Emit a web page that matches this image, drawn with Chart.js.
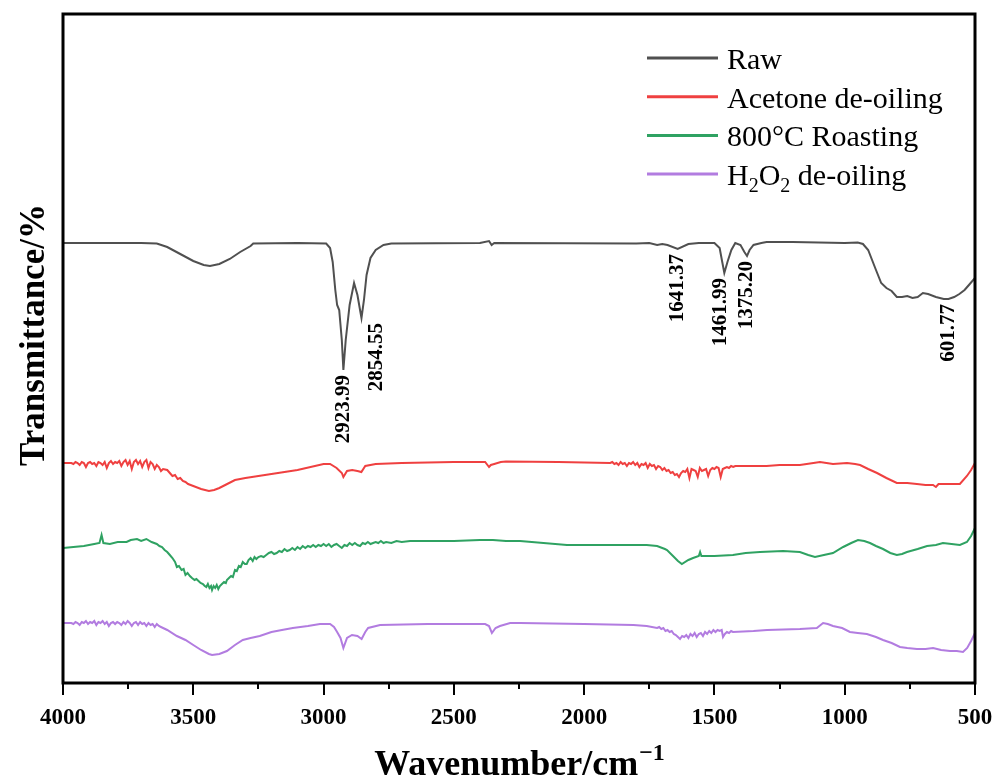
<!DOCTYPE html>
<html>
<head>
<meta charset="utf-8">
<script src="https://cdn.jsdelivr.net/npm/chart.js@4"></script>
<style>
  body { margin: 0; background: #fff; }
</style>
</head>
<body>
<canvas id="chart" width="998" height="780"></canvas>
<script>
// FTIR spectra: [wavenumber cm-1, transmittance in offset units]
const rawSpectrum = [
    [4000, 440], [3800, 440], [3700, 440], [3640, 439.5], [3600, 436], [3550, 429], [3500, 422], [3460, 418],
    [3436, 417], [3400, 419], [3360, 424], [3320, 431], [3280, 437], [3270, 439.5], [3100, 440], [2990, 439.5],
    [2975, 435], [2965, 421], [2955, 393], [2948, 378], [2940, 373], [2930, 343], [2924, 313], [2915, 343],
    [2900, 378], [2883, 400], [2870, 388], [2860, 373], [2854.5, 365], [2845, 383], [2835, 408], [2820, 425],
    [2800, 433], [2770, 438], [2740, 439.5], [2400, 440], [2365, 442], [2355, 438], [2345, 440], [1800, 439.5],
    [1750, 440], [1720, 438], [1700, 439], [1680, 438], [1641, 434], [1600, 439], [1560, 440], [1500, 440],
    [1480, 435], [1470, 421], [1462, 410], [1450, 421], [1435, 433], [1420, 440], [1400, 438], [1385, 431],
    [1375, 427], [1365, 433], [1350, 438], [1320, 440], [1300, 441], [1200, 441], [1000, 440], [950, 440.5],
    [930, 439], [910, 433], [880, 413], [860, 400], [840, 395], [820, 392], [800, 386], [780, 386],
    [760, 387], [740, 385], [720, 386], [700, 390], [680, 389], [650, 386], [620, 384], [601.77, 384],
    [580, 386], [560, 389], [540, 393], [520, 399], [500, 405]
];

const acetoneSpectrum = [
    [4000, 220], [3968, 220], [3960, 219], [3952, 221], [3944, 220], [3936, 218], [3928, 221], [3920, 220],
    [3912, 216], [3904, 220], [3896, 221], [3888, 219], [3880, 220], [3872, 217], [3864, 221], [3856, 220],
    [3848, 218], [3840, 221], [3832, 215], [3824, 220], [3816, 222], [3808, 219], [3800, 221], [3792, 220],
    [3784, 222], [3776, 217], [3768, 221], [3760, 223], [3752, 218], [3744, 222], [3736, 214], [3728, 221],
    [3720, 223], [3712, 219], [3704, 222], [3696, 216], [3688, 221], [3680, 223], [3672, 215], [3664, 221],
    [3656, 219], [3648, 214], [3640, 218], [3632, 216], [3624, 212], [3616, 214], [3600, 213], [3590, 210],
    [3580, 207], [3570, 208], [3560, 204], [3550, 205], [3540, 202], [3530, 201], [3520, 199], [3510, 198],
    [3500, 197], [3470, 194], [3440, 192], [3420, 193], [3400, 195], [3370, 199], [3340, 203], [3300, 205],
    [3250, 207], [3200, 209], [3100, 213], [3000, 219], [2975, 219], [2950, 215], [2930, 210], [2924, 206],
    [2910, 212], [2890, 213], [2870, 212], [2855, 211], [2840, 217], [2800, 219], [2700, 220], [2500, 221],
    [2380, 221], [2365, 216], [2358, 218], [2345, 219], [2320, 221], [2300, 221.5], [2100, 221], [1900, 220],
    [1892, 221], [1884, 219], [1876, 220], [1868, 218], [1860, 221], [1852, 219], [1844, 220], [1836, 217],
    [1828, 220], [1820, 219], [1812, 221], [1804, 218], [1796, 220], [1788, 216], [1780, 219], [1772, 218],
    [1764, 220], [1756, 215], [1748, 219], [1740, 217], [1732, 218], [1724, 214], [1716, 217], [1708, 216],
    [1700, 213], [1692, 215], [1684, 212], [1676, 213], [1668, 210], [1660, 211], [1652, 208], [1644, 209],
    [1636, 206], [1628, 210], [1620, 212], [1612, 211], [1604, 214], [1596, 205], [1588, 214], [1580, 213],
    [1572, 212], [1564, 206], [1556, 215], [1548, 212], [1540, 213], [1532, 214], [1524, 207], [1516, 213],
    [1508, 215], [1500, 214], [1492, 216], [1484, 215], [1476, 206], [1468, 214], [1460, 215], [1452, 216],
    [1444, 215], [1436, 217], [1428, 216], [1420, 217], [1350, 217], [1300, 217], [1250, 218], [1172, 218],
    [1120, 220], [1095, 221], [1070, 220], [1045, 219], [991, 220], [960, 219], [941, 218], [910, 214],
    [876, 210], [840, 205], [800, 200], [760, 200], [723, 199], [690, 198], [661, 198], [650, 196],
    [640, 199], [600, 199], [558, 199], [531, 207], [515, 213], [500, 220]
];

const roastSpectrum = [
    [4000, 135], [3960, 136], [3920, 137], [3880, 139], [3860, 140], [3852, 148], [3845, 140], [3820, 139],
    [3790, 141], [3756, 141], [3740, 143], [3716, 144], [3700, 142], [3680, 144], [3660, 141], [3640, 139],
    [3630, 137], [3620, 136], [3610, 133], [3600, 131], [3590, 128], [3580, 125], [3570, 121], [3563, 116],
    [3555, 117], [3545, 113], [3537, 114], [3530, 108], [3522, 110], [3513, 107], [3505, 105], [3495, 103],
    [3488, 104], [3480, 102], [3472, 100], [3463, 99], [3456, 97], [3450, 96], [3444, 99], [3438, 95],
    [3432, 97], [3428, 93], [3422, 97], [3416, 95], [3410, 98], [3404, 94], [3398, 97], [3390, 99],
    [3382, 101], [3375, 100], [3371, 103], [3363, 105], [3355, 107], [3348, 106], [3340, 113], [3333, 112],
    [3325, 117], [3318, 116], [3310, 121], [3302, 119], [3295, 119], [3288, 123], [3280, 125], [3272, 122],
    [3265, 126], [3258, 124], [3250, 126], [3240, 127], [3230, 126], [3220, 128], [3210, 130], [3200, 131],
    [3190, 129], [3180, 130], [3170, 132], [3160, 131], [3150, 134], [3140, 132], [3130, 133], [3120, 135],
    [3110, 133], [3100, 136], [3090, 134], [3080, 137], [3070, 135], [3060, 137], [3050, 136], [3040, 138],
    [3030, 136], [3020, 138], [3010, 137], [3000, 139], [2990, 137], [2980, 139], [2970, 136], [2960, 138],
    [2950, 139], [2940, 137], [2930, 135], [2920, 138], [2910, 137], [2900, 140], [2890, 138], [2880, 140],
    [2870, 138], [2860, 137], [2850, 140], [2840, 139], [2830, 141], [2820, 139], [2810, 140], [2800, 141],
    [2790, 140], [2780, 142], [2770, 140], [2760, 141], [2740, 140], [2720, 142], [2700, 141], [2668, 142],
    [2600, 142], [2500, 142], [2400, 143], [2350, 143], [2300, 142], [2246, 142], [2066, 138], [1900, 138],
    [1811, 138], [1760, 138], [1720, 137], [1690, 134], [1682, 133], [1659, 127], [1640, 122], [1625, 119],
    [1600, 123], [1582, 125], [1560, 127], [1555, 131], [1550, 127], [1500, 127], [1429, 128], [1380, 130],
    [1325, 131], [1237, 132], [1172, 131], [1140, 128], [1114, 126], [1080, 128], [1045, 130], [1006, 136],
    [975, 140], [949, 143], [925, 142], [903, 140], [880, 137], [853, 134], [825, 130], [800, 128],
    [780, 129], [761, 131], [720, 134], [684, 137], [650, 138], [623, 140], [590, 139], [558, 138],
    [531, 141], [515, 147], [500, 155]
];

const h2o2Spectrum = [
    [4000, 60], [3968, 60], [3960, 59], [3952, 61], [3944, 60], [3936, 58], [3928, 61], [3920, 60],
    [3912, 62], [3904, 59], [3896, 61], [3888, 60], [3880, 62], [3872, 58], [3864, 61], [3856, 60],
    [3848, 62], [3840, 59], [3832, 61], [3824, 57], [3816, 60], [3808, 61], [3800, 59], [3792, 61],
    [3784, 60], [3776, 58], [3768, 61], [3760, 59], [3752, 62], [3744, 60], [3736, 57], [3728, 60],
    [3720, 61], [3712, 58], [3704, 61], [3696, 59], [3688, 60], [3680, 57], [3672, 60], [3664, 58],
    [3656, 59], [3648, 56], [3640, 59], [3632, 57], [3624, 56], [3616, 55], [3600, 53], [3563, 47],
    [3530, 43], [3500, 38], [3470, 33], [3440, 29], [3428, 28], [3400, 29], [3371, 32], [3340, 38],
    [3310, 43], [3280, 45], [3245, 47], [3200, 51], [3160, 53], [3118, 55], [3060, 57], [3014, 59],
    [2975, 59], [2960, 56], [2948, 51], [2935, 45], [2924, 35], [2910, 45], [2891, 48], [2870, 47],
    [2854, 44], [2840, 51], [2829, 55], [2783, 58], [2600, 59], [2476, 59], [2380, 59], [2365, 57],
    [2354, 50], [2340, 55], [2323, 57], [2284, 60], [2246, 60], [2000, 59], [1811, 58], [1760, 57],
    [1720, 55], [1712, 56], [1704, 54], [1696, 55], [1688, 52], [1680, 53], [1672, 51], [1664, 52],
    [1656, 49], [1648, 48], [1640, 46], [1632, 44], [1624, 47], [1616, 46], [1608, 48], [1600, 45],
    [1592, 49], [1584, 47], [1576, 50], [1568, 46], [1560, 49], [1552, 50], [1544, 47], [1536, 51],
    [1528, 49], [1520, 52], [1512, 50], [1504, 53], [1496, 51], [1488, 53], [1480, 52], [1472, 53],
    [1467, 46], [1460, 49], [1452, 51], [1444, 50], [1436, 52], [1429, 51], [1350, 52], [1298, 53],
    [1172, 54], [1107, 55], [1083, 60], [1065, 59], [1045, 57], [1010, 55], [980, 51], [950, 50],
    [915, 49], [880, 46], [853, 43], [820, 40], [788, 36], [760, 35], [723, 34], [690, 34],
    [661, 35], [630, 33], [596, 32], [570, 32], [546, 31], [530, 35], [515, 42], [500, 50]
];

const seriesNames = ['Raw', 'Acetone de-oiling', '800°C Roasting', 'H₂O₂ de-oiling'];
const seriesColors = ['#505050', '#ef4040', '#2fa262', '#b27ce0'];
const xTicks = [4000, 3500, 3000, 2500, 2000, 1500, 1000, 500];

const peakLabels = ['2923.99', '2854.55', '1641.37', '1461.99', '1375.20', '601.77'];
const peakWn = [2923.99, 2854.55, 1641.37, 1461.99, 1375.20, 601.77];

const FONT = "'Liberation Serif', 'Times New Roman', serif";
const labelNudge = { '2854.55': 15, '1461.99': -4 };

function toPoints(spectrum) {
    return spectrum.map(function (p) { return { x: p[0], y: p[1] }; });
}

function nearestValue(spectrum, target) {
    let best = spectrum[0];
    for (let i = 1; i < spectrum.length; ++i) {
        if (Math.abs(spectrum[i][0] - target) < Math.abs(best[0] - target)) best = spectrum[i];
    }
    return best[1];
}

// draws text where ₂ becomes a lowered small 2
function drawSubText(ctx, text, x, y, size) {
    let cx = x;
    for (const ch of text) {
        if (ch === '₂') {
            ctx.font = Math.round(size * 0.66) + 'px ' + FONT;
            ctx.fillText('2', cx, y + size * 0.22);
            cx += ctx.measureText('2').width;
        } else {
            ctx.font = size + 'px ' + FONT;
            ctx.fillText(ch, cx, y);
            cx += ctx.measureText(ch).width;
        }
    }
}

const decorPlugin = {
    id: 'decor',
    afterDatasetsDraw(chart) {
        const ctx = chart.ctx;
        const a = chart.chartArea;
        const xs = chart.scales.x;
        const ys = chart.scales.y;
        ctx.save();

        // frame
        ctx.strokeStyle = '#000';
        ctx.lineWidth = 3;
        ctx.strokeRect(a.left, a.top, a.right - a.left, a.bottom - a.top);

        // major and minor tick marks
        ctx.lineWidth = 2;
        for (let w = 500; w <= 4000; w += 250) {
            const px = Math.round(xs.getPixelForValue(w));
            const len = w % 500 === 0 ? 12 : 6;
            ctx.beginPath();
            ctx.moveTo(px, a.bottom);
            ctx.lineTo(px, a.bottom + len);
            ctx.stroke();
        }

        // peak labels
        ctx.fillStyle = '#000';
        ctx.font = 'bold 21px ' + FONT;
        ctx.textAlign = 'right';
        ctx.textBaseline = 'middle';
        for (let i = 0; i < peakLabels.length; ++i) {
            const px = xs.getPixelForValue(peakWn[i]) + (labelNudge[peakLabels[i]] || 0);
            const py = ys.getPixelForValue(nearestValue(rawSpectrum, peakWn[i])) + 5;
            ctx.save();
            ctx.translate(px, py);
            ctx.rotate(-Math.PI / 2);
            ctx.fillText(peakLabels[i], 0, 0);
            ctx.restore();
        }

        // legend
        ctx.textAlign = 'left';
        ctx.textBaseline = 'alphabetic';
        chart.data.datasets.forEach(function (ds, i) {
            const ly = 58 + i * 38.7;
            ctx.strokeStyle = ds.borderColor;
            ctx.lineWidth = 3;
            ctx.beginPath();
            ctx.moveTo(647, ly);
            ctx.lineTo(718, ly);
            ctx.stroke();
            ctx.fillStyle = '#000';
            drawSubText(ctx, ds.label, 727, ly + 11, 30);
        });

        // axis titles
        ctx.fillStyle = '#000';
        ctx.font = 'bold 36px ' + FONT;
        const mainTxt = 'Wavenumber/cm';
        const w1 = ctx.measureText(mainTxt).width;
        ctx.font = 'bold 24px ' + FONT;
        const supTxt = '−1';
        const w2 = ctx.measureText(supTxt).width;
        const sx = (a.left + a.right) / 2 - (w1 + w2) / 2;
        ctx.font = 'bold 36px ' + FONT;
        ctx.fillText(mainTxt, sx, 775);
        ctx.font = 'bold 24px ' + FONT;
        ctx.fillText(supTxt, sx + w1 + 1, 760);

        ctx.save();
        ctx.translate(44, 335);
        ctx.rotate(-Math.PI / 2);
        ctx.textAlign = 'center';
        ctx.font = 'bold 35px ' + FONT;
        ctx.fillText('Transmittance/%', 0, 0);
        ctx.restore();

        ctx.restore();
    }
};

const ctx = document.getElementById('chart').getContext('2d');
const myChart = new Chart(ctx, {
    type: 'line',
    data: {
        datasets: [
            { label: seriesNames[0], data: toPoints(rawSpectrum), borderColor: seriesColors[0] },
            { label: seriesNames[1], data: toPoints(acetoneSpectrum), borderColor: seriesColors[1] },
            { label: seriesNames[2], data: toPoints(roastSpectrum), borderColor: seriesColors[2] },
            { label: seriesNames[3], data: toPoints(h2o2Spectrum), borderColor: seriesColors[3] }
        ]
    },
    options: {
        responsive: false,
        animation: false,
        events: [],
        layout: { padding: { left: 63, right: 23, top: 14, bottom: 0 } },
        elements: {
            point: { radius: 0 },
            line: { borderWidth: 2, tension: 0 }
        },
        plugins: {
            legend: { display: false },
            tooltip: { enabled: false }
        },
        scales: {
            x: {
                type: 'linear',
                reverse: true,
                min: 500,
                max: 4000,
                afterBuildTicks: function (scale) {
                    scale.ticks = xTicks.map(function (v) { return { value: v }; });
                },
                afterFit: function (scale) {
                    scale.height = 97;
                    scale.paddingLeft = 0;
                    scale.paddingRight = 0;
                },
                grid: { display: false, drawTicks: false },
                border: { display: false },
                ticks: {
                    autoSkip: false,
                    maxRotation: 0,
                    padding: 21,
                    color: '#000',
                    font: { family: FONT, size: 23, weight: 'bold' },
                    callback: function (value) { return String(value); }
                }
            },
            y: {
                display: false,
                min: 0,
                max: 669
            }
        }
    },
    plugins: [decorPlugin]
});
</script>
</body>
</html>
